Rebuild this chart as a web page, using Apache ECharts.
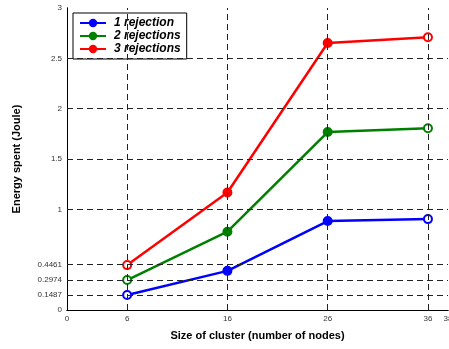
<!DOCTYPE html>
<html>
<head>
<meta charset="utf-8">
<script src="https://cdn.jsdelivr.net/npm/echarts@6/dist/echarts.min.js"></script>
<style>
  html, body { margin: 0; padding: 0; background: #fff; }
  #chart { width: 449px; height: 349px; }
</style>
</head>
<body>
<div id="chart"></div>
<script>
// Cluster sizes (number of nodes)
const clusterSizes = [6, 16, 26, 36];
// Energy spent (Joule) per number of rejections
const oneRejection = [0.1487, 0.389, 0.884, 0.903];
const twoRejections = [0.2974, 0.778, 1.768, 1.806];
const threeRejections = [0.4461, 1.167, 2.652, 2.709];

const seriesNames = ['1 rejection', '2 rejections', '3 rejections'];
const seriesColors = ['#0000ff', '#008000', '#ff0000'];

// Tick label positions on both axes
const xTicks = [0, 6, 16, 26, 36, 38];
const yTicks = [0, 0.1487, 0.2974, 0.4461, 1, 1.5, 2, 2.5, 3];
const xGrid = [6, 16, 26, 36];
const yGrid = [0.1487, 0.2974, 0.4461, 1, 1.5, 2, 2.5];

const FONT = '"Liberation Sans", Arial, sans-serif';

function buildSeries(name, values, color) {
  return {
    name: name,
    type: 'line',
    z: 3,
    data: clusterSizes.map((x, i) => {
      const hollow = (i === 0 || i === clusterSizes.length - 1);
      return {
        value: [x, values[i]],
        itemStyle: { color: hollow ? '#ffffff' : color, borderColor: color, borderWidth: 2 }
      };
    }),
    symbol: 'circle',
    symbolSize: 8,
    showAllSymbol: true,
    lineStyle: { color: color, width: 2.5 },
    itemStyle: { color: color, borderColor: color, borderWidth: 2 },
    emphasis: { disabled: true },
    animation: false
  };
}

const gridLine = { type: [6, 4], color: '#222', width: 1 };

const chart = echarts.init(document.getElementById('chart'), null, { renderer: 'canvas' });

chart.setOption({
  animation: false,
  backgroundColor: '#ffffff',
  grid: { left: 67, right: 1, top: 8, bottom: 39, containLabel: false, outerBoundsMode: 'none' },
  legend: {
    orient: 'vertical',
    left: 73,
    top: 13,
    padding: [4, 6, 4, 6],
    itemGap: 1,
    itemWidth: 26,
    itemHeight: 8,
    backgroundColor: '#ffffff',
    borderColor: '#000',
    borderWidth: 1,
    data: seriesNames,
    textStyle: { fontFamily: FONT, fontSize: 12, fontWeight: 'bold', fontStyle: 'italic', color: '#000', padding: [0, 0, 0, 3] }
  },
  xAxis: [
    {
      type: 'value', min: 0, max: 38, position: 'bottom',
      name: 'Size of cluster (number of nodes)',
      nameLocation: 'middle', nameGap: 20,
      nameTextStyle: { fontFamily: FONT, fontSize: 11, fontWeight: 'bold', color: '#000' },
      axisLine: { lineStyle: { color: '#000', width: 1 } },
      axisTick: { show: false },
      axisLabel: { customValues: xTicks, fontFamily: FONT, fontSize: 8, color: '#333', margin: 5, hideOverlap: false },
      splitLine: { show: false }
    },
    {
      type: 'value', min: 0, max: 38, position: 'top',
      axisLine: { lineStyle: { color: '#000', width: 1 } },
      axisTick: { show: false },
      axisLabel: { show: false },
      splitLine: { show: false }
    }
  ],
  yAxis: [
    {
      type: 'value', min: 0, max: 3, position: 'left',
      name: 'Energy spent (Joule)',
      nameLocation: 'middle', nameGap: 45,
      nameTextStyle: { fontFamily: FONT, fontSize: 11, fontWeight: 'bold', color: '#000' },
      axisLine: { show: true, lineStyle: { color: '#000', width: 1 } },
      axisTick: { show: false },
      axisLabel: { customValues: yTicks, fontFamily: FONT, fontSize: 8, color: '#333', margin: 5, hideOverlap: false },
      splitLine: { show: false }
    },
    {
      type: 'value', min: 0, max: 3, position: 'right',
      axisLine: { show: true, lineStyle: { color: '#000', width: 1 } },
      axisTick: { show: false },
      axisLabel: { show: false },
      splitLine: { show: false }
    }
  ],
  series: [
    {
      // dashed grid
      type: 'line',
      data: [],
      z: 1,
      silent: true,
      markLine: {
        silent: true,
        symbol: 'none',
        animation: false,
        label: { show: false },
        lineStyle: gridLine,
        emphasis: { disabled: true },
        data: [
          ...xGrid.map(v => ({ xAxis: v })),
          ...yGrid.map(v => ({ yAxis: v }))
        ]
      }
    },
    buildSeries(seriesNames[0], oneRejection, seriesColors[0]),
    buildSeries(seriesNames[1], twoRejections, seriesColors[1]),
    buildSeries(seriesNames[2], threeRejections, seriesColors[2])
  ]
});
</script>
</body>
</html>
